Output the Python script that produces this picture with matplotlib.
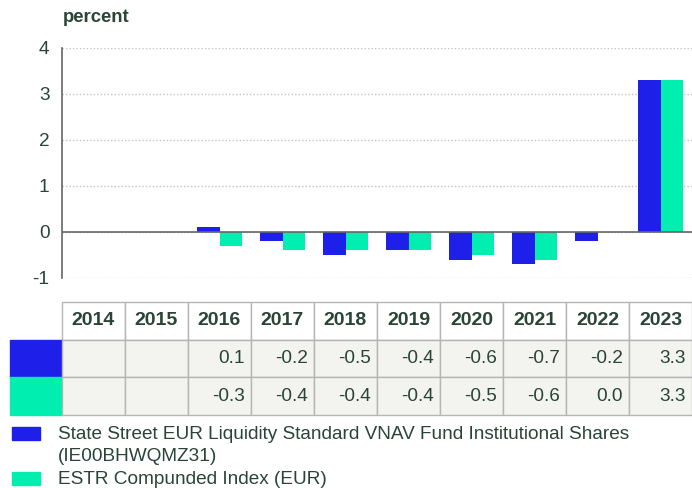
import numpy as np
import matplotlib
matplotlib.use("Agg")
import matplotlib.pyplot as plt
from matplotlib.patches import Rectangle

plt.rcParams['font.family'] = ['Liberation Sans', 'DejaVu Sans']
plt.rcParams['axes.unicode_minus'] = False

# yearly returns, percent (nan = no data for that year)
years = ['2014', '2015', '2016', '2017', '2018', '2019', '2020', '2021', '2022', '2023']
fund = [np.nan, np.nan, 0.1, -0.2, -0.5, -0.4, -0.6, -0.7, -0.2, 3.3]
index = [np.nan, np.nan, -0.3, -0.4, -0.4, -0.4, -0.5, -0.6, 0.0, 3.3]
series_names = ['State Street EUR Liquidity Standard VNAV Fund Institutional Shares\n(IE00BHWQMZ31)',
                'ESTR Compunded Index (EUR)']

BLUE = '#1e20ea'
GREEN = '#00efb0'
TXT = '#2a4438'
W, H = 692, 488
FS = 13.7

fig = plt.figure(figsize=(W / 100, H / 100), dpi=100)

# --- bar chart ---
ax = fig.add_axes([62 / W, 1 - 278 / H, (W - 62) / W, 230 / H])
x = np.arange(len(years))
bw = 0.365
ax.bar(x - bw / 2, fund, bw, color=BLUE, zorder=3)
ax.bar(x + bw / 2, index, bw, color=GREEN, zorder=3)
ax.set_xlim(-0.5, len(years) - 0.5)
ax.set_ylim(-1, 4)
ax.set_yticks([-1, 0, 1, 2, 3, 4])
ax.set_xticks([])
ax.tick_params(axis='y', length=0, pad=9, labelsize=FS, labelcolor=TXT)
for s in ['top', 'right', 'bottom']:
    ax.spines[s].set_visible(False)
ax.spines['left'].set_color('#666666')
ax.spines['left'].set_linewidth(1.2)
ax.yaxis.grid(True, linestyle=(0, (1, 1.5)), color='#c4c4c4', linewidth=1, zorder=0)
ax.axhline(0, color='#666666', linewidth=1.2, zorder=4)
fig.text(63 / W, 1 - 18 / H, 'percent', fontsize=13.3, fontweight='bold', color=TXT, va='center')

# --- data table under the chart ---
tax = fig.add_axes([10 / W, 1 - 415 / H, (W - 10) / W, 113 / H])
tax.axis('off')
fmt = lambda v: '' if np.isnan(v) else f'{v:.1f}'
cell_text = [[''] + [fmt(v) for v in fund], [''] + [fmt(v) for v in index]]
cell_bg = '#f3f3ef'
cell_colours = [[BLUE] + [cell_bg] * len(years), [GREEN] + [cell_bg] * len(years)]
widths = [52 / 682] + [63 / 682] * len(years)
tbl = tax.table(cellText=cell_text, colLabels=[''] + years, cellColours=cell_colours,
                colWidths=widths, cellLoc='right', colLoc='center', bbox=[0, 0, 1, 1])
tbl.auto_set_font_size(False)
tbl.set_fontsize(FS)
for (r, c), cell in tbl.get_celld().items():
    cell.set_edgecolor('#b5b5b5')
    cell.set_linewidth(1)
    cell.get_text().set_color(TXT)
    if r == 0:
        cell.set_facecolor('white')
        cell.get_text().set_fontweight('bold')
        cell.get_text().set_fontsize(14)
        if c == 0:
            cell.set_edgecolor('white')
    elif c == 0:
        cell.set_edgecolor(cell.get_facecolor())

# --- legend ---
swatch_tops = [427, 472]
for name, col, top in zip(series_names, [BLUE, GREEN], swatch_tops):
    fig.patches.append(Rectangle((12 / W, 1 - (top + 13) / H), 28 / W, 13 / H,
                                 transform=fig.transFigure, color=col))
    fig.text(58 / W, 1 - (top - 1) / H, name, fontsize=FS, color=TXT,
             va='top', linespacing=1.38)

fig.savefig('out.png', dpi=100)
